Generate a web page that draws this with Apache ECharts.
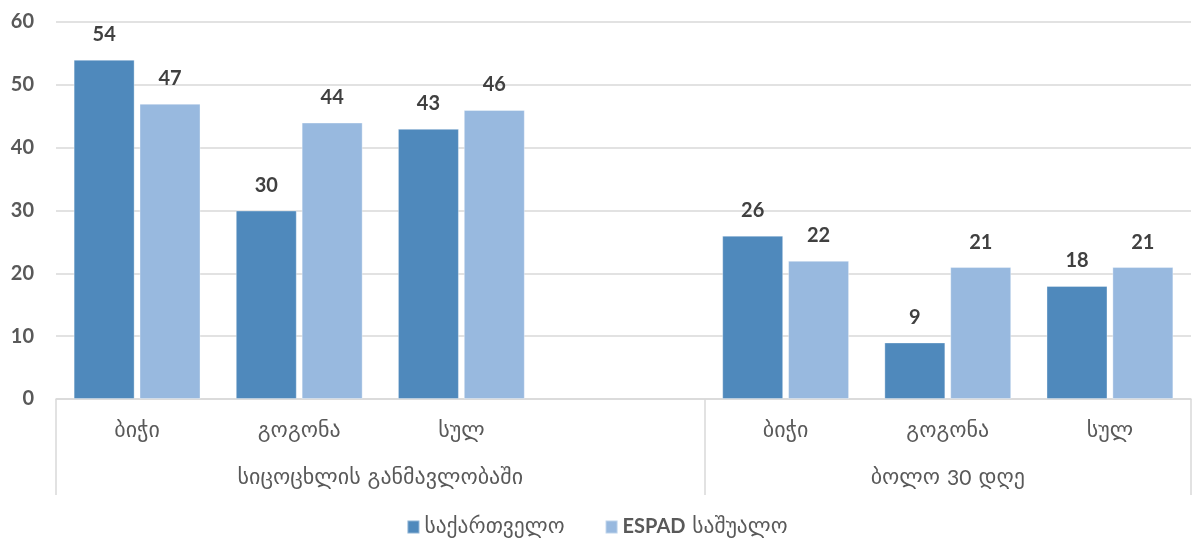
<!DOCTYPE html>
<html><head><meta charset="utf-8">
<script src="https://cdn.jsdelivr.net/npm/echarts@6/dist/echarts.min.js"></script>
<style>html,body{margin:0;padding:0;background:#fff}#c{width:1194px;height:549px}</style>
</head><body><div id="c"></div>
<script>
var categories = ['ბიჭი','გოგონა','სულ','','ბიჭი','გოგონა','სულ'];
var groups = ['სიცოცხლის განმავლობაში','ბოლო 30 დღე'];
var groupSpans = [4,3];
var seriesNames = ['საქართველო','ESPAD საშუალო'];
var georgia = [54,30,43,null,26,9,18];
var espad = [47,44,46,null,22,21,21];
var yTicks = {min:0,max:60,interval:10};

var FONT = "Lato, 'DejaVu Sans', sans-serif";
var GFONT = "'DejaVu Sans', sans-serif";
var groupCenters = {}; var boundaries = [0];
(function(){var s=0;for(var i=0;i<groupSpans.length;i++){groupCenters[(s+groupSpans[i]/2).toFixed(2)]=groups[i];s+=groupSpans[i];boundaries.push(s);}})();

function richText(str){
  return str.split(' ').map(function(w){
    return /^[A-Za-z0-9]+$/.test(w) ? '{l|'+w+'}' : '{g|'+w+'}';
  }).join('{g| }');
}

var chart = echarts.init(document.getElementById('c'));
var lbl = {show:true,position:'top',distance:15,color:'#404040',fontWeight:'bold',fontSize:20,fontFamily:FONT};
chart.setOption({
  animation:false,
  color:['#4f89bc','#98b9df'],
  grid:{left:56,width:1139,top:22,bottom:150,containLabel:false},
  legend:{bottom:6,left:'center',itemWidth:12,itemHeight:13,itemGap:40,icon:'rect',
    formatter:function(n){return richText(n);},
    textStyle:{color:'#595959',fontSize:21,fontFamily:GFONT,
      rich:{g:{color:'#595959',fontSize:21.5,fontFamily:GFONT},l:{color:'#595959',fontSize:20,fontWeight:'bold',fontFamily:FONT}}},
    data:seriesNames},
  xAxis:[{type:'category',data:categories,
    axisLine:{lineStyle:{color:'#d9d9d9',width:1.5}},
    axisTick:{show:true,length:96,lineStyle:{color:'#d9d9d9',width:1.5},
      interval:function(i){return boundaries.indexOf(i)>=0;}},
    axisLabel:{margin:21,color:'#595959',fontSize:22,fontFamily:GFONT,interval:0}},
   {type:'value',position:'bottom',min:0,max:7,interval:0.5,
    axisLine:{show:false},axisTick:{show:false},splitLine:{show:false},
    axisLabel:{margin:68,color:'#595959',fontSize:22,fontFamily:FONT,showMinLabel:true,showMaxLabel:true,
      formatter:function(v){var t=groupCenters[v.toFixed(2)];return t?richText(t):'';},
      rich:{g:{color:'#595959',fontSize:22,fontFamily:GFONT},l:{color:'#595959',fontSize:21,fontFamily:FONT}}}}],
  yAxis:{type:'value',min:yTicks.min,max:yTicks.max,interval:yTicks.interval,
    axisLine:{show:false},axisTick:{show:false},
    splitLine:{lineStyle:{color:'#d9d9d9',width:1.5}},
    axisLabel:{margin:22,color:'#595959',fontWeight:'bold',fontSize:20,fontFamily:FONT}},
  series:[
    {name:seriesNames[0],type:'bar',data:georgia,barWidth:61,barGap:'8%',label:lbl,
      itemStyle:{borderColor:'rgba(255,255,255,0.35)',borderWidth:1}},
    {name:seriesNames[1],type:'bar',data:espad,barWidth:61,barGap:'8%',label:lbl,
      itemStyle:{borderColor:'rgba(255,255,255,0.35)',borderWidth:1}}
  ]
});
</script></body></html>
